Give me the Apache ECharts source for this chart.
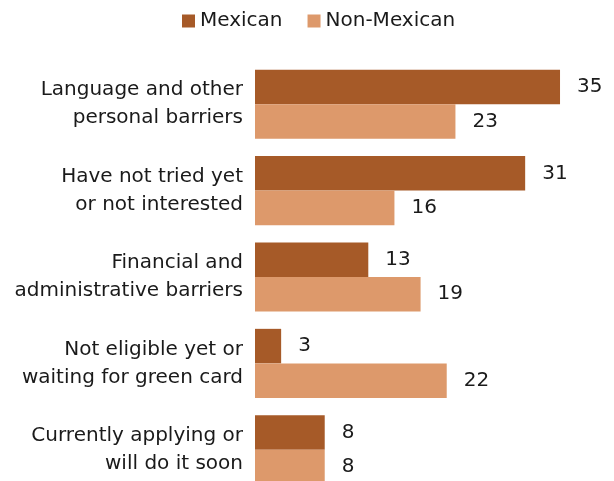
<!DOCTYPE html>
<html><head><meta charset="utf-8">
<script src="https://cdn.jsdelivr.net/npm/echarts@6/dist/echarts.min.js"></script>
<style>html,body{margin:0;padding:0;background:#fff}#c{width:614px;height:481px}</style>
</head><body><div id="c"></div>
<script>
const categories = [
  "Language and other\npersonal barriers",
  "Have not tried yet\nor not interested",
  "Financial and\nadministrative barriers",
  "Not eligible yet or\nwaiting for green card",
  "Currently applying or\nwill do it soon"
];
const mexican = [35, 31, 13, 3, 8];
const nonMexican = [23, 16, 19, 22, 8];
const seriesNames = ["Mexican", "Non-Mexican"];

const font = "DejaVu Sans";
const chart = echarts.init(document.getElementById('c'));
chart.setOption({
  animation: false,
  legend: {
    top: 6, left: 177,
    itemWidth: 13, itemHeight: 13, itemGap: 25,
    icon: 'rect',
    textStyle: {fontFamily: font, fontSize: 20, color: '#1a1a1a'},
    data: seriesNames
  },
  grid: {left: 255, top: 61, height: 432, width: 348.6, outerBoundsMode: 'none'},
  xAxis: {type: 'value', min: 0, max: 40, show: false},
  yAxis: {
    type: 'category', inverse: true, data: categories,
    axisLine: {show: false}, axisTick: {show: false},
    axisLabel: {fontFamily: font, fontSize: 20, color: '#1a1a1a', lineHeight: 28, margin: 12, align: 'right'}
  },
  series: [
    {name: seriesNames[0], type: 'bar', data: mexican, barGap: '0%', barCategoryGap: '20%',
     itemStyle: {color: '#a65a28'},
     label: {show: true, position: 'right', distance: 17, fontFamily: font, fontSize: 20, color: '#1a1a1a'}},
    {name: seriesNames[1], type: 'bar', data: nonMexican, barGap: '0%', barCategoryGap: '20%',
     itemStyle: {color: '#dd996b'},
     label: {show: true, position: 'right', distance: 17, fontFamily: font, fontSize: 20, color: '#1a1a1a'}}
  ]
});
</script></body></html>
